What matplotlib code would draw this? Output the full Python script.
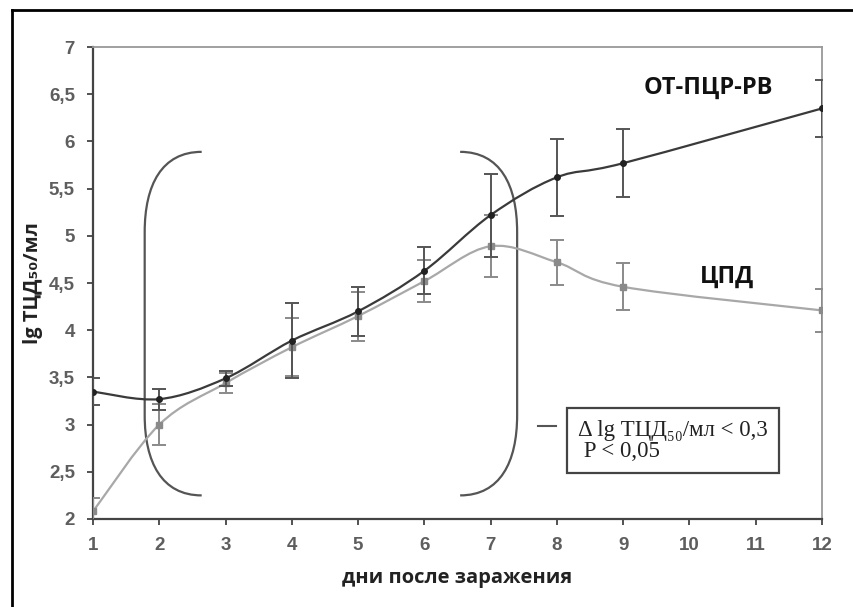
import matplotlib
matplotlib.use("Agg")
import matplotlib.pyplot as plt
from matplotlib.path import Path
from matplotlib.patches import PathPatch
import numpy as np

# данные
days = [1, 2, 3, 4, 5, 6, 7, 8, 9, 12]
pcr = [3.35, 3.27, 3.49, 3.89, 4.20, 4.63, 5.22, 5.62, 5.77, 6.35]
pcr_err = [0.14, 0.11, 0.08, 0.40, 0.26, 0.25, 0.44, 0.41, 0.36, 0.30]
cpd = [2.08, 3.00, 3.44, 3.82, 4.15, 4.52, 4.89, 4.72, 4.46, 4.21]
cpd_err = [0.14, 0.22, 0.11, 0.31, 0.26, 0.22, 0.33, 0.24, 0.25, 0.23]

x_ticks = list(range(1, 13))
y_ticks = [2, 2.5, 3, 3.5, 4, 4.5, 5, 5.5, 6, 6.5, 7]
y_tick_labels = ["2", "2,5", "3", "3,5", "4", "4,5", "5", "5,5", "6", "6,5", "7"]


def smooth_path(xs, ys):
    # сглаженная линия как в Excel (кривые Безье через точки)
    pts = np.column_stack([xs, ys]).astype(float)
    n = len(pts)
    verts = [pts[0]]
    codes = [Path.MOVETO]
    for i in range(n - 1):
        p0 = pts[i - 1] if i > 0 else pts[i]
        p1 = pts[i]
        p2 = pts[i + 1]
        p3 = pts[i + 2] if i + 2 < n else pts[i + 1]
        c1 = p1 + (p2 - p0) / 6.0
        c2 = p2 - (p3 - p1) / 6.0
        verts += [c1, c2, p2]
        codes += [Path.CURVE4] * 3
    return Path(verts, codes)


fig = plt.figure(figsize=(8.54, 6.07), dpi=100)
fig.patch.set_facecolor("white")
ax = fig.add_axes([0.1089, 0.145, 0.8536, 0.7774])

# рамка рисунка (слева и сверху)
fig.add_artist(plt.Line2D([0.014, 0.014], [0.0, 0.984], color="black", lw=2,
                          transform=fig.transFigure))
fig.add_artist(plt.Line2D([0.014, 1.0], [0.984, 0.984], color="black", lw=2,
                          transform=fig.transFigure))

# линии
ax.add_patch(PathPatch(smooth_path(days, cpd), facecolor="none",
                       edgecolor="#a8a8a8", lw=1.6, zorder=3))
ax.add_patch(PathPatch(smooth_path(days, pcr), facecolor="none",
                       edgecolor="#3a3a3a", lw=1.6, zorder=4))

ax.errorbar(days, cpd, yerr=cpd_err, fmt="s", color="#8a8a8a", ms=5,
            ecolor="#8a8a8a", elinewidth=1.4, capsize=5, capthick=1.4, zorder=5)
ax.errorbar(days, pcr, yerr=pcr_err, fmt="o", color="#222222", ms=4,
            ecolor="#555555", elinewidth=1.4, capsize=5, capthick=1.4, zorder=6)

# скобки
def bracket(x_end, x_mid, y_top, y_bot):
    v = [(x_end, y_top), (x_end - 0.7 * (x_end - x_mid), y_top),
         (x_mid, y_top - 0.35), (x_mid, y_top - 0.85),
         (x_mid, y_bot + 0.85),
         (x_mid, y_bot + 0.35), (x_end - 0.7 * (x_end - x_mid), y_bot),
         (x_end, y_bot)]
    c = [Path.MOVETO, Path.CURVE4, Path.CURVE4, Path.CURVE4, Path.LINETO,
         Path.CURVE4, Path.CURVE4, Path.CURVE4]
    ax.add_patch(PathPatch(Path(v, c), facecolor="none", edgecolor="#555555",
                           lw=1.6, zorder=2))

bracket(2.64, 1.78, 5.89, 2.25)
bracket(6.54, 7.40, 5.89, 2.25)

# подписи
ax.text(10.28, 6.57, "ОТ-ПЦР-РВ", fontsize=17, fontweight="bold",
        family=["Open Sans", "DejaVu Sans"], ha="center", va="center",
        color="#111111")
ax.text(10.56, 4.57, "ЦПД", fontsize=17, fontweight="bold",
        family=["Open Sans", "DejaVu Sans"], ha="center", va="center",
        color="#111111")
ax.plot([7.72, 7.98], [2.99, 2.99], color="#555555", lw=1.5, zorder=2)
ax.text(8.32, 2.83, "Δ lg ТЦД₅₀/мл < 0,3\n P < 0,05", fontsize=16.5,
        family=["Liberation Serif", "DejaVu Serif"], ha="left", va="center",
        color="#222222", linespacing=1.0,
        bbox=dict(boxstyle="square,pad=0.5", facecolor="white",
                  edgecolor="#444444", lw=1.6))

ax.set_xlim(1, 12)
ax.set_ylim(2, 7)
ax.set_xticks(x_ticks)
ax.set_yticks(y_ticks)
ax.set_yticklabels(y_tick_labels)
for lab in ax.get_xticklabels() + ax.get_yticklabels():
    lab.set_family(["Liberation Sans Narrow", "Liberation Sans", "DejaVu Sans"])
    lab.set_fontsize(13.5)
    lab.set_fontweight("bold")
    lab.set_color("#5e5e5e")
ax.tick_params(direction="out", length=4, width=1.3, color="#444444", pad=9)

for s in ["left", "bottom"]:
    ax.spines[s].set_color("#444444")
    ax.spines[s].set_linewidth(1.6)
for s in ["top", "right"]:
    ax.spines[s].set_color("#999999")
    ax.spines[s].set_linewidth(1.3)

ax.set_xlabel("дни после заражения", fontsize=14.5, fontweight="bold",
              family=["Open Sans", "DejaVu Sans"], color="#222222", labelpad=10)
ax.set_ylabel("lg ТЦД₅₀/мл", fontsize=14.5, fontweight="bold",
              family=["Open Sans", "DejaVu Sans"], color="#222222", labelpad=4)

fig.savefig("out.png", dpi=100)
